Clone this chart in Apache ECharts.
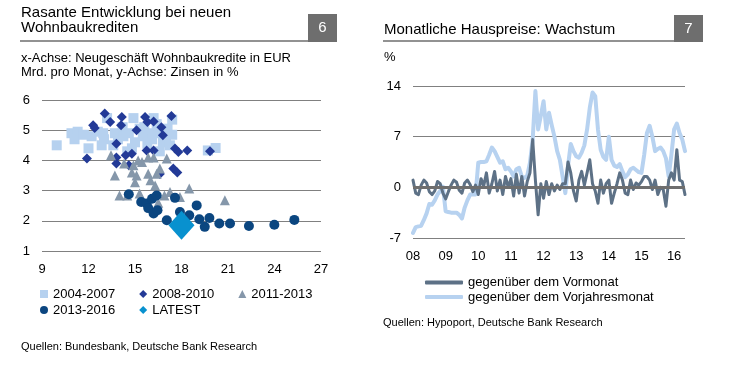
<!DOCTYPE html>
<html>
<head>
<meta charset="utf-8">
<script src="https://cdn.jsdelivr.net/npm/echarts@6/dist/echarts.min.js"></script>
<style>
html,body{margin:0;padding:0;background:#fff;}
#chart{width:734px;height:374px;}
</style>
</head>
<body>
<div id="chart"></div>
<script>
// ---------- Chart 6: scatter (x: new housing loans EUR bn / month, y: rate %) ----------
const sq2004 = [[9.95,4.5],[10.9,4.9],[11.3,4.95],[11.1,4.7],[11.7,4.85],[12.0,4.4],[12.2,4.8],[12.6,4.95],[12.85,4.5],[13.2,5.4],[12.95,4.9],[13.0,4.7],[13.6,4.5],[13.7,4.9],[13.9,4.7],[14.2,5.1],[14.25,4.8],[14.6,4.9],[14.9,5.4],[14.8,4.4],[14.5,4.3],[15.0,4.6],[15.3,5.05],[15.5,4.8],[15.6,5.1],[15.9,4.9],[16.1,4.7],[15.8,4.55],[16.4,5.2],[16.2,5.4],[16.5,4.9],[16.6,4.3],[16.8,4.6],[17.0,4.8],[17.25,4.5],[17.4,5.35],[17.1,5.05],[17.4,4.85],[19.7,4.33],[20.2,4.41]];
const dia2008 = [[11.9,4.06],[12.3,5.16],[12.4,5.07],[13.05,5.55],[13.4,5.27],[13.8,4.55],[14.15,5.44],[14.1,5.16],[13.8,4.1],[13.8,3.9],[14.4,4.17],[14.8,4.22],[14.6,3.84],[15.1,5.0],[15.65,5.44],[15.8,5.27],[16.2,5.29],[15.75,4.33],[16.2,4.33],[16.7,5.1],[16.8,4.83],[17.35,5.47],[17.58,4.39],[17.8,4.28],[18.37,4.33],[19.84,4.3],[17.47,3.73],[17.73,3.6],[16.6,3.55]];
const tri2011 = [[13.45,4.17],[13.7,3.5],[14.0,2.84],[14.3,3.9],[14.5,2.84],[14.9,3.84],[15.0,3.28],[15.1,3.5],[15.3,2.9],[15.45,3.95],[15.85,4.1],[16.2,4.1],[15.85,3.56],[16.4,3.56],[16.0,3.34],[16.3,3.17],[16.6,3.73],[17.05,4.06],[16.9,2.84],[17.26,2.95],[17.9,2.79],[18.5,3.07],[16.5,2.6],[14.8,3.6],[15.2,4.0],[20.8,2.68]];
const circ2013 = [[14.6,2.88],[15.4,2.62],[15.75,2.57],[15.85,2.42],[16.1,2.73],[16.4,2.84],[16.2,2.24],[16.45,2.35],[17.05,2.02],[17.58,2.76],[17.9,2.29],[18.5,2.18],[18.98,2.51],[19.15,2.05],[19.5,1.8],[19.8,2.09],[20.44,1.91],[21.13,1.91],[22.35,1.83],[23.99,1.87],[25.28,2.03]];
const latest = [[18.0,1.85]];
const scatterNames = ['2004-2007','2008-2010','2011-2013','2013-2016','LATEST'];

// ---------- Chart 7: monthly house price growth, Jan 2008 – May 2016 ----------
const yearLabels = ['08','09','10','11','12','13','14','15','16'];
const momGrowth = [
 1.0,-0.8,-1.0,0.3,1.0,0.6,-0.6,-1.0,-0.5,0.8,0.5,-0.8,
 -1.6,-0.6,0.3,1.0,0.7,-0.4,-0.8,0.6,1.0,0.4,-0.6,0.3,
 -1.0,1.2,0.2,2.0,-0.8,0.5,2.2,-0.5,1.0,-1.0,1.5,0.0,
 1.2,-1.2,1.8,-0.8,1.5,-1.2,0.8,2.0,6.6,1.0,-3.8,0.5,
 -1.5,0.8,-1.0,0.5,-0.5,0.3,-0.3,0.5,0.5,3.5,2.0,-0.5,
 -1.9,1.0,2.2,0.3,2.0,3.8,0.5,-0.5,-2.2,1.0,-0.8,0.5,
 1.0,-2.2,-0.8,0.5,2.0,1.0,-0.8,-1.0,1.0,-0.3,0.6,0.3,
 0.8,1.5,1.5,1.0,-0.3,1.0,-1.0,0.0,-0.3,-2.6,1.0,2.0,
 1.0,5.2,1.0,0.8,-1.0];
const yoyGrowth = [
 -6.3,-5.5,-5.4,-5.3,-4.5,-3.6,-2.3,-2.4,-1.8,-1.0,-0.5,0.1,
 -3.3,-3.4,-3.5,-3.5,-3.5,-3.8,-4.3,-2.8,-1.8,-1.0,-1.0,-1.0,
 3.4,3.5,3.5,3.6,4.5,5.5,5.0,4.2,3.4,3.6,2.5,2.7,
 2.2,1.5,2.5,2.7,1.5,1.3,1.6,3.4,6.6,13.3,8.0,9.9,
 11.9,8.0,10.3,8.6,7.0,5.0,3.8,1.5,-0.8,3.0,6.0,5.0,
 4.3,4.1,4.8,5.8,8.0,11.0,13.1,12.6,8.0,5.2,4.2,3.8,
 7.0,3.8,3.0,2.8,3.2,2.2,1.4,1.8,2.5,2.7,2.4,2.1,
 2.0,4.5,7.5,8.5,7.0,5.0,5.3,5.5,5.0,4.0,1.5,4.5,
 8.0,8.8,7.5,6.6,5.0];
const months = [];
for (let i = 0; i < momGrowth.length; i++) {
  months.push((2008 + Math.floor(i / 12)) + '-' + String(i % 12 + 1).padStart(2, '0'));
}
const lineNames = ['gegenüber dem Vormonat','gegenüber dem Vorjahresmonat'];

const FONT = 'Liberation Sans, Arial, sans-serif';
const GRAY = '#6e6e6e';
const GRID = '#808080';

const chart = echarts.init(document.getElementById('chart'), null, {renderer: 'canvas'});

function txt(x, y, text, size) {
  return {type: 'text', x: x, y: y,
    style: {text: text, fill: '#000', font: size + 'px ' + FONT, textVerticalAlign: 'middle'}};
}

const option = {
  animation: false,
  backgroundColor: '#fff',
  textStyle: {fontFamily: FONT},
  graphic: [
    // left header
    {type: 'text', x: 21, y: 5, style: {text: 'Rasante Entwicklung bei neuen\nWohnbaukrediten', fill: '#000', font: '15px ' + FONT, lineHeight: 15}},
    {type: 'line', shape: {x1: 20, y1: 41, x2: 308, y2: 41}, style: {stroke: GRAY, lineWidth: 1.5}},
    {type: 'rect', shape: {x: 308, y: 14, width: 29, height: 28}, style: {fill: GRAY}},
    {type: 'text', x: 322.5, y: 28, style: {text: '6', fill: '#fff', font: '15px ' + FONT, textAlign: 'center', textVerticalAlign: 'middle'}},
    {type: 'text', x: 21, y: 51, style: {text: 'x-Achse: Neugeschäft Wohnbaukredite in EUR\nMrd. pro Monat, y-Achse: Zinsen in %', fill: '#000', font: '13px ' + FONT, lineHeight: 14}},
    txt(21, 347, 'Quellen: Bundesbank, Deutsche Bank Research', 11),
    // right header
    txt(384, 30, 'Monatliche Hauspreise: Wachstum', 15),
    {type: 'line', shape: {x1: 383, y1: 41, x2: 674, y2: 41}, style: {stroke: GRAY, lineWidth: 1.5}},
    {type: 'rect', shape: {x: 674, y: 15, width: 29, height: 27}, style: {fill: GRAY}},
    {type: 'text', x: 688.5, y: 28.5, style: {text: '7', fill: '#fff', font: '15px ' + FONT, textAlign: 'center', textVerticalAlign: 'middle'}},
    txt(384, 57, '%', 13),
    txt(383, 323, 'Quellen: Hypoport, Deutsche Bank Research', 11)
  ],
  legend: [
    {left: 35, top: 282.5, itemWidth: 8, itemHeight: 8, itemGap: 24, selectedMode: false,
     textStyle: {fontSize: 13, color: '#000', fontFamily: FONT},
     data: [{name: scatterNames[0], icon: 'rect'}, {name: scatterNames[1], icon: 'diamond'}, {name: scatterNames[2], icon: 'triangle'}]},
    {left: 35, top: 298.5, itemWidth: 8, itemHeight: 8, itemGap: 24, selectedMode: false,
     textStyle: {fontSize: 13, color: '#000', fontFamily: FONT},
     data: [{name: scatterNames[3], icon: 'circle'}, {name: scatterNames[4], icon: 'diamond'}]},
    {left: 420, top: 271, itemWidth: 38, itemHeight: 4, selectedMode: false,
     textStyle: {fontSize: 13, color: '#000', fontFamily: FONT},
     data: [{name: lineNames[0], icon: 'roundRect'}]},
    {left: 420, top: 285.5, itemWidth: 38, itemHeight: 4, selectedMode: false,
     textStyle: {fontSize: 13, color: '#000', fontFamily: FONT},
     data: [{name: lineNames[1], icon: 'roundRect'}]}
  ],
  grid: [
    {left: 42, top: 100, width: 279, height: 151, containLabel: false},
    {left: 413, top: 86, width: 272, height: 152, containLabel: false}
  ],
  xAxis: [
    {gridIndex: 0, type: 'value', min: 9, max: 27, interval: 3,
     axisLine: {show: false}, axisTick: {show: false}, splitLine: {show: false},
     axisLabel: {margin: 12, fontSize: 13, color: '#000', fontFamily: FONT}},
    {gridIndex: 1, type: 'category', data: months, boundaryGap: false,
     axisLine: {show: false}, axisTick: {show: false}, splitLine: {show: false},
     axisLabel: {margin: 12, fontSize: 13, color: '#000', fontFamily: FONT,
       interval: function (i) { return i % 12 === 0; },
       formatter: function (v, i) { return yearLabels[Math.floor(i / 12)]; }}}
  ],
  yAxis: [
    {gridIndex: 0, type: 'value', min: 1, max: 6, interval: 1,
     axisLine: {show: false}, axisTick: {show: false},
     splitLine: {show: true, lineStyle: {color: GRID, width: 1}},
     axisLabel: {margin: 12, fontSize: 13, color: '#000', fontFamily: FONT}},
    {gridIndex: 1, type: 'value', min: -7, max: 14, interval: 7,
     axisLine: {show: false}, axisTick: {show: false},
     splitLine: {show: true, lineStyle: {color: GRID, width: 1}},
     axisLabel: {margin: 12, fontSize: 13, color: '#000', fontFamily: FONT}}
  ],
  series: [
    {name: scatterNames[0], type: 'scatter', xAxisIndex: 0, yAxisIndex: 0, symbol: 'rect', symbolSize: 10,
     itemStyle: {color: '#b6d1ef', opacity: 1}, data: sq2004, silent: true},
    {name: scatterNames[1], type: 'scatter', xAxisIndex: 0, yAxisIndex: 0, symbol: 'diamond', symbolSize: 10,
     itemStyle: {color: '#233a97', opacity: 1}, data: dia2008, silent: true},
    {name: scatterNames[2], type: 'scatter', xAxisIndex: 0, yAxisIndex: 0, symbol: 'triangle', symbolSize: 10,
     itemStyle: {color: '#8597aa', opacity: 1}, data: tri2011, silent: true},
    {name: scatterNames[3], type: 'scatter', xAxisIndex: 0, yAxisIndex: 0, symbol: 'circle', symbolSize: 10,
     itemStyle: {color: '#0b4680', opacity: 1}, data: circ2013, silent: true},
    {name: scatterNames[4], type: 'scatter', xAxisIndex: 0, yAxisIndex: 0, symbol: 'diamond', symbolSize: [26, 29],
     itemStyle: {color: '#0891cf', opacity: 1}, data: latest, silent: true},
    {name: lineNames[1], type: 'line', xAxisIndex: 1, yAxisIndex: 1, data: yoyGrowth,
     showSymbol: false, symbol: 'none', color: '#b7d2f0',
     lineStyle: {color: '#b7d2f0', width: 4, cap: 'round', join: 'round'},
     markLine: {silent: true, symbol: 'none', label: {show: false},
       lineStyle: {color: GRAY, width: 3, type: 'solid'}, data: [{yAxis: 0}]}},
    {name: lineNames[0], type: 'line', xAxisIndex: 1, yAxisIndex: 1, data: momGrowth,
     showSymbol: false, symbol: 'none', color: '#5d7186',
     lineStyle: {color: '#5d7186', width: 3, cap: 'round', join: 'round'}}
  ]
};
chart.setOption(option);
</script>
</body>
</html>
